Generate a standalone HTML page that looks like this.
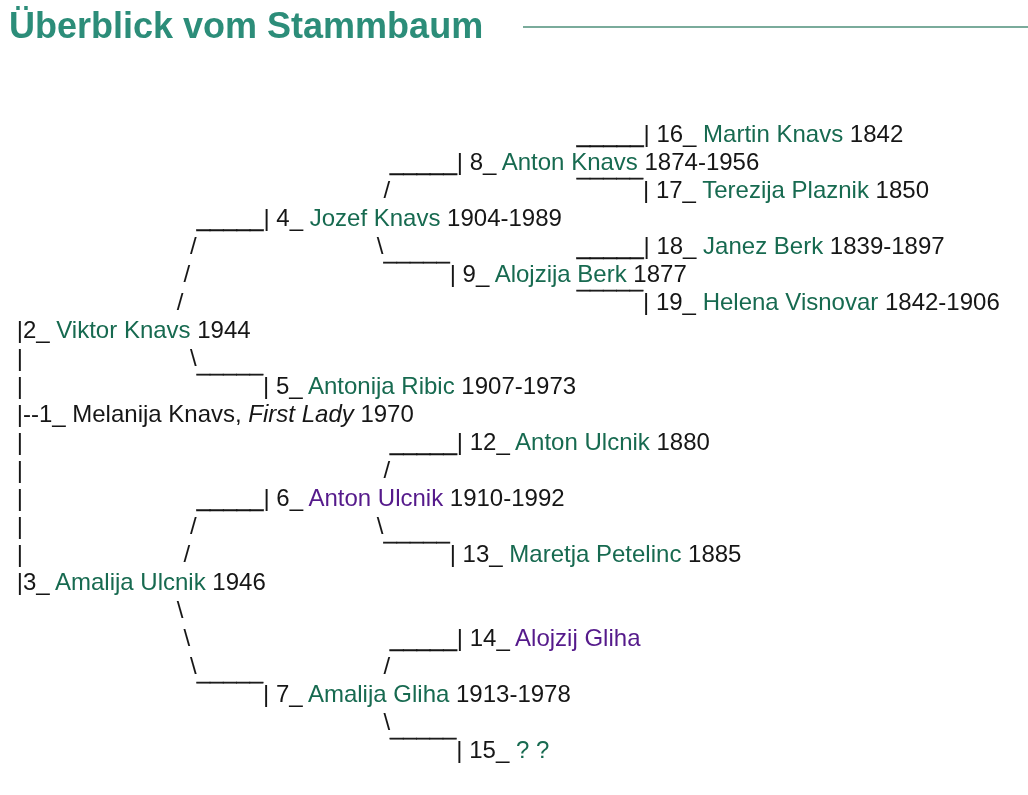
<!DOCTYPE html>
<html lang="de"><head><meta charset="utf-8"><title>Überblick vom Stammbaum</title>
<style>
html,body{margin:0;padding:0;background:#fff;}
body{width:1028px;height:795px;overflow:hidden;position:relative;font-family:"Liberation Sans",Arial,Helvetica,sans-serif;color:#161616;}
#w{position:absolute;left:0;top:0;width:1028px;height:795px;will-change:transform;}
h2{position:absolute;left:9px;top:4px;margin:0;font-size:36px;line-height:44px;font-weight:bold;color:#2c8d79;white-space:nowrap;}
.hr{position:absolute;left:523px;top:26px;width:505px;height:2px;background:#7aab9b;}
.r{position:absolute;white-space:pre;font-size:24px;line-height:28px;}
.u,.o{position:relative;-webkit-text-stroke:0.5px #161616;}
.u{top:0px;}
.o{top:-2px;}
a{text-decoration:none;}
a.g{color:#176a50;}
a.p{color:#551a8b;}
</style></head><body><div id="w">
<h2>Überblick vom Stammbaum</h2>
<div class="hr"></div>
<div class="r" style="top:120.0px;left:576.74px"><span class="u">_____</span>| 16_ <a class="g">Martin Knavs</a> 1842</div>
<div class="r" style="top:148.0px;left:390.06px"><span class="u">_____</span>| 8_ <a class="g">Anton Knavs</a> 1874-1956</div>
<div class="r" style="top:176.0px;left:383.40px">/</div>
<div class="r" style="top:176.0px;left:576.74px"><span class="o">¯¯¯¯¯</span>| 17_ <a class="g">Terezija Plaznik</a> 1850</div>
<div class="r" style="top:204.0px;left:196.71px"><span class="u">_____</span>| 4_ <a class="g">Jozef Knavs</a> 1904-1989</div>
<div class="r" style="top:232.0px;left:190.05px">/</div>
<div class="r" style="top:232.0px;left:376.73px">\</div>
<div class="r" style="top:232.0px;left:576.74px"><span class="u">_____</span>| 18_ <a class="g">Janez Berk</a> 1839-1897</div>
<div class="r" style="top:260.0px;left:183.38px">/</div>
<div class="r" style="top:260.0px;left:383.40px"><span class="o">¯¯¯¯¯</span>| 9_ <a class="g">Alojzija Berk</a> 1877</div>
<div class="r" style="top:288.0px;left:176.71px">/</div>
<div class="r" style="top:288.0px;left:576.74px"><span class="o">¯¯¯¯¯</span>| 19_ <a class="g">Helena Visnovar</a> 1842-1906</div>
<div class="r" style="top:316.0px;left:16.70px">|2_ <a class="g">Viktor Knavs</a> 1944</div>
<div class="r" style="top:344.0px;left:16.70px">|</div>
<div class="r" style="top:344.0px;left:190.05px">\</div>
<div class="r" style="top:372.0px;left:16.70px">|</div>
<div class="r" style="top:372.0px;left:196.71px"><span class="o">¯¯¯¯¯</span>| 5_ <a class="g">Antonija Ribic</a> 1907-1973</div>
<div class="r" style="top:400.0px;left:16.70px">|--1_ Melanija Knavs, <i>First Lady</i> 1970</div>
<div class="r" style="top:428.0px;left:16.70px">|</div>
<div class="r" style="top:428.0px;left:390.06px"><span class="u">_____</span>| 12_ <a class="g">Anton Ulcnik</a> 1880</div>
<div class="r" style="top:456.0px;left:16.70px">|</div>
<div class="r" style="top:456.0px;left:383.40px">/</div>
<div class="r" style="top:484.0px;left:16.70px">|</div>
<div class="r" style="top:484.0px;left:196.71px"><span class="u">_____</span>| 6_ <a class="p">Anton Ulcnik</a> 1910-1992</div>
<div class="r" style="top:512.0px;left:16.70px">|</div>
<div class="r" style="top:512.0px;left:190.05px">/</div>
<div class="r" style="top:512.0px;left:376.73px">\</div>
<div class="r" style="top:540.0px;left:16.70px">|</div>
<div class="r" style="top:540.0px;left:183.38px">/</div>
<div class="r" style="top:540.0px;left:383.40px"><span class="o">¯¯¯¯¯</span>| 13_ <a class="g">Maretja Petelinc</a> 1885</div>
<div class="r" style="top:568.0px;left:16.70px">|3_ <a class="g">Amalija Ulcnik</a> 1946</div>
<div class="r" style="top:596.0px;left:176.71px">\</div>
<div class="r" style="top:624.0px;left:183.38px">\</div>
<div class="r" style="top:624.0px;left:390.06px"><span class="u">_____</span>| 14_ <a class="p">Alojzij Gliha</a></div>
<div class="r" style="top:652.0px;left:190.05px">\</div>
<div class="r" style="top:652.0px;left:383.40px">/</div>
<div class="r" style="top:680.0px;left:196.71px"><span class="o">¯¯¯¯¯</span>| 7_ <a class="g">Amalija Gliha</a> 1913-1978</div>
<div class="r" style="top:708.0px;left:383.40px">\</div>
<div class="r" style="top:736.0px;left:390.06px"><span class="o">¯¯¯¯¯</span>| 15_ <a class="g">? ?</a></div>
</div></body></html>
